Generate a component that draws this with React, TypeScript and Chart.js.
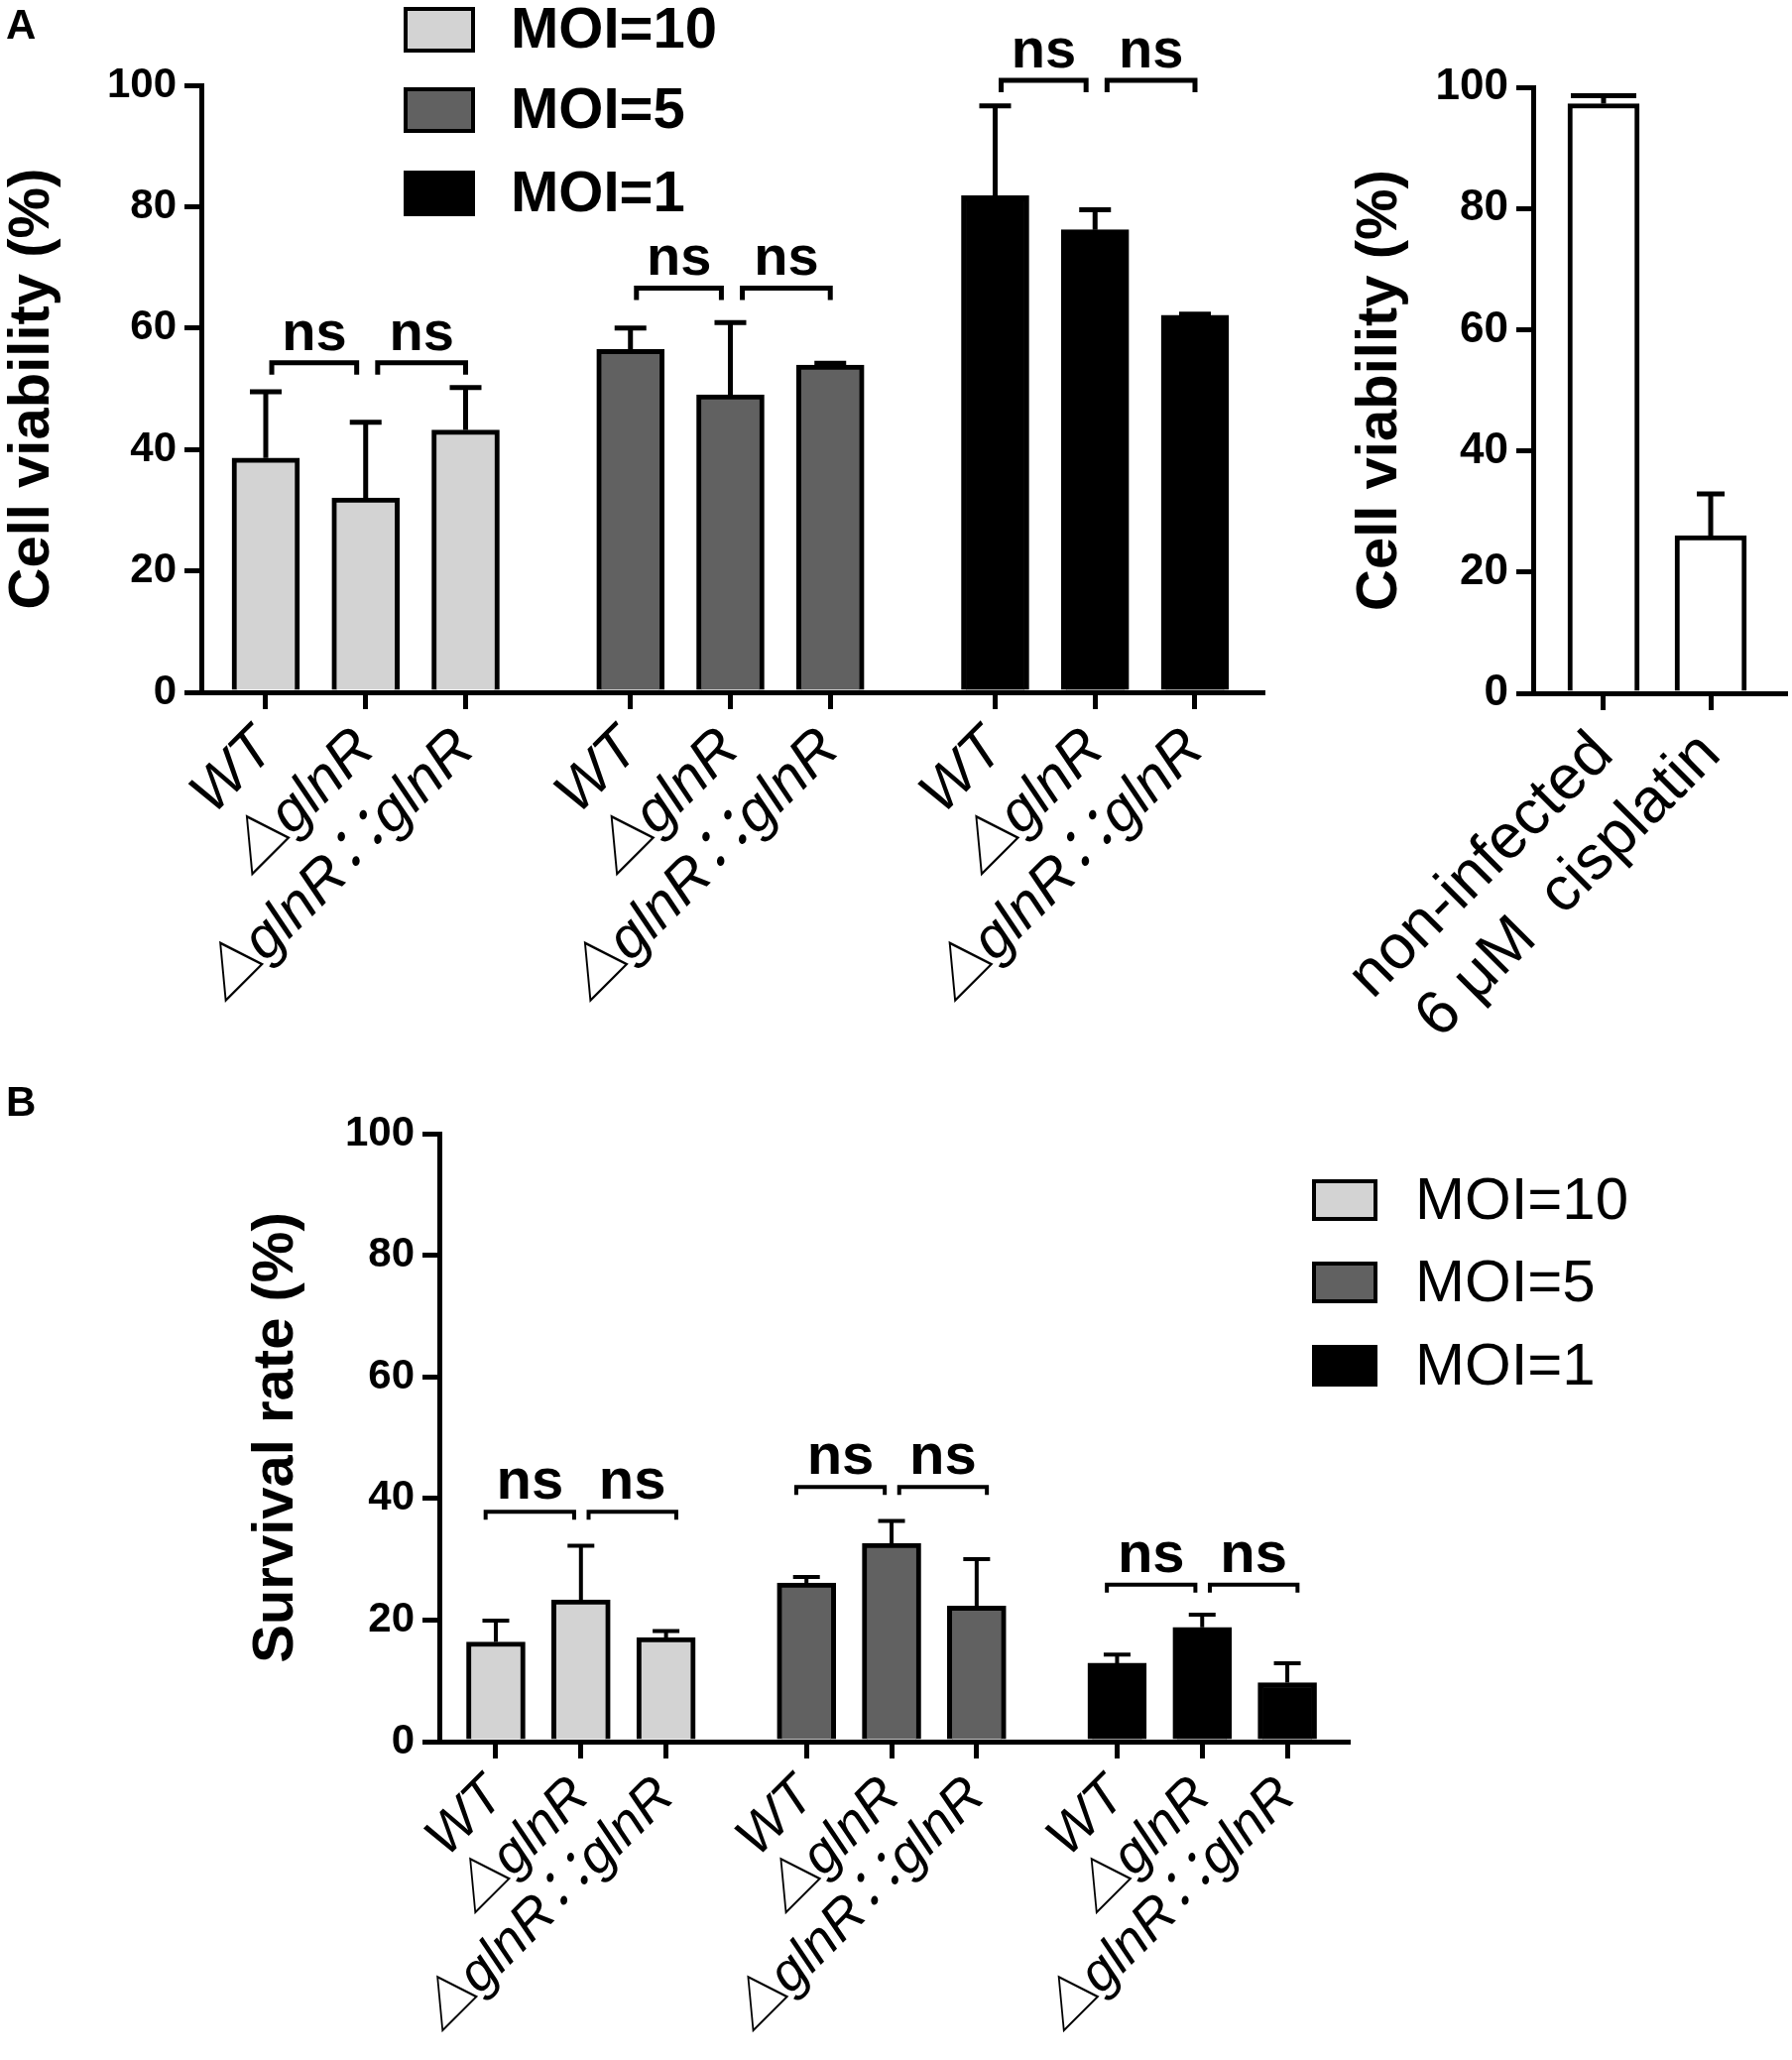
import React, { useRef, useEffect } from 'react';
import { Chart, registerables } from 'chart.js';

Chart.register(...registerables);

const FONT = "'Liberation Sans', 'Noto Sans CJK SC', Arial, sans-serif";
Chart.defaults.font.family = FONT;
Chart.defaults.color = '#000';

// categories
const strains = ['WT', '△glnR', '△glnR∷glnR'];
const xLabels = [...strains, ...strains, ...strains];
const xPos = [0, 1, 2, 3.65, 4.65, 5.65, 7.3, 8.3, 9.3];
const moiLabels = ['MOI=10', 'MOI=5', 'MOI=1'];
const moiColors = ['#d3d3d3', '#616161', '#000000'];
const yTicks = [0, 20, 40, 60, 80, 100];

// A: cell viability (%)
const viabMoi10 = [38.6, 32.0, 43.2];
const viabMoi5 = [56.5, 49.0, 53.9];
const viabMoi1 = [81.8, 76.2, 62.1];
const viabErrMoi10 = [49.5, 44.5, 50.2];
const viabErrMoi5 = [60.0, 60.9, 54.2];
const viabErrMoi1 = [96.6, 79.5, 62.3];
const viabBracketY = [54.3, 66.6, 100.8];

// A: controls
const ctrlLabels = ['non-infected', '6 μM  cisplatin'];
const ctrlPos = [0, 1];
const ctrlViab = [97.3, 26.0];
const ctrlErr = [98.6, 32.9];

// B: survival rate (%)
const survMoi10 = [16.4, 23.3, 17.1];
const survMoi5 = [26.1, 32.6, 22.3];
const survMoi1 = [12.9, 18.8, 9.7];
const survErrMoi10 = [19.9, 32.2, 18.2];
const survErrMoi5 = [27.1, 36.3, 30.0];
const survErrMoi1 = [14.3, 20.9, 12.9];
const survBracketY = [37.8, 41.9, 25.8];

function errorBars(lineWidth: number, caps: number[] | number) {
    return {
        id: 'errorBars',
        afterDatasetsDraw(chart: any) {
            const { ctx } = chart;
            const y = chart.scales.y;
            ctx.save();
            ctx.strokeStyle = '#000';
            ctx.lineWidth = lineWidth;
            chart.data.datasets.forEach((ds: any, di: number) => {
                chart.getDatasetMeta(di).data.forEach((bar: any, i: number) => {
                    const top = y.getPixelForValue(ds.errors[i]);
                    const cap = Array.isArray(caps) ? caps[i] : caps;
                    ctx.beginPath();
                    ctx.moveTo(bar.x, bar.y);
                    ctx.lineTo(bar.x, top);
                    ctx.moveTo(bar.x - cap / 2, top);
                    ctx.lineTo(bar.x + cap / 2, top);
                    ctx.stroke();
                });
            });
            ctx.restore();
        },
    };
}

// offsets: [start, end] of the left and the right bracket, in x units
function brackets(levels: number[], left: number[], right: number[], drop: number, lineWidth: number, fontSize: number) {
    return {
        id: 'brackets',
        afterDraw(chart: any) {
            const { ctx } = chart;
            const { x, y } = chart.scales;
            ctx.save();
            ctx.strokeStyle = '#000';
            ctx.fillStyle = '#000';
            ctx.lineWidth = lineWidth;
            ctx.font = `bold ${fontSize}px ${FONT}`;
            ctx.textAlign = 'center';
            ctx.textBaseline = 'alphabetic';
            levels.forEach((lvl, g) => {
                const yy = y.getPixelForValue(lvl);
                [left, right].forEach((off, k) => {
                    const x1 = x.getPixelForValue(xPos[g * 3 + k] + off[0]);
                    const x2 = x.getPixelForValue(xPos[g * 3 + k + 1] + off[1]);
                    ctx.beginPath();
                    ctx.moveTo(x1, yy + drop);
                    ctx.lineTo(x1, yy);
                    ctx.lineTo(x2, yy);
                    ctx.lineTo(x2, yy + drop);
                    ctx.stroke();
                    ctx.fillText('ns', (x1 + x2) / 2, yy - 13);
                });
            });
            ctx.restore();
        },
    };
}

function boxLegend(left: number, tops: number[], w: number, h: number, textX: number, font: string) {
    return {
        id: 'boxLegend',
        afterDraw(chart: any) {
            const { ctx } = chart;
            ctx.save();
            chart.data.datasets.forEach((ds: any, i: number) => {
                const top = tops[i];
                ctx.fillStyle = ds.backgroundColor;
                ctx.fillRect(left, top, w, h);
                ctx.strokeStyle = '#000';
                ctx.lineWidth = 4;
                ctx.strokeRect(left + 2, top + 2, w - 4, h - 4);
                ctx.fillStyle = '#000';
                ctx.font = font;
                ctx.textAlign = 'left';
                ctx.textBaseline = 'middle';
                ctx.fillText(ds.label, textX, top + h / 2 + 2);
            });
            ctx.restore();
        },
    };
}

function pick(arr: number[], from: number) {
    return arr.map((v, i) => ({ x: xPos[from + i], y: v }));
}

function yScale(title: string, width: number, tickSize: number, titlePad: number) {
    return {
        min: 0,
        max: 100,
        afterBuildTicks: (s: any) => { s.ticks = yTicks.map(v => ({ value: v })); },
        afterFit: (s: any) => { s.width = width; },
        ticks: { font: { size: tickSize, weight: 'bold' }, color: '#000', padding: 8 },
        grid: { drawOnChartArea: false, drawTicks: true, tickLength: 17, lineWidth: 5, color: '#000' },
        border: { display: true, width: 5, color: '#000' },
        title: {
            display: true,
            text: title,
            color: '#000',
            font: { size: 58, weight: 'bold', lineHeight: 1 },
            padding: { top: titlePad, bottom: 0 },
        },
    };
}

function xScale(positions: number[], labels: string[], min: number, max: number, height: number, font: any, pad: number) {
    return {
        type: 'linear',
        min,
        max,
        offset: false,
        afterBuildTicks: (s: any) => { s.ticks = positions.map(v => ({ value: v })); },
        afterFit: (s: any) => {
            s.height = height;
            s.paddingLeft = 0;
            s.paddingRight = 0;
        },
        ticks: {
            autoSkip: false,
            maxRotation: 45,
            minRotation: 45,
            padding: pad,
            font,
            color: '#000',
            callback: (_v: any, i: number) => labels[i],
        },
        grid: { offset: false, drawOnChartArea: false, drawTicks: true, tickLength: 17, lineWidth: 5, color: '#000' },
        border: { display: true, width: 5, color: '#000' },
    };
}

function moiDatasets(vals: number[][], errs: number[][], thickness: number, borderWidth: number) {
    return vals.map((v, g) => ({
        label: moiLabels[g],
        data: pick(v, g * 3),
        errors: errs[g],
        backgroundColor: moiColors[g],
        borderColor: '#000',
        borderWidth,
        borderSkipped: 'start',
        barThickness: thickness,
        grouped: false,
    }));
}

const baseOptions = {
    responsive: false,
    animation: false,
    devicePixelRatio: 1,
    plugins: { legend: { display: false }, tooltip: { enabled: false } },
};

function viabilityConfig(): any {
    return {
        type: 'bar',
        data: {
            datasets: moiDatasets(
                [viabMoi10, viabMoi5, viabMoi1],
                [viabErrMoi10, viabErrMoi5, viabErrMoi1],
                68, 5,
            ),
        },
        options: {
            ...baseOptions,
            layout: { padding: { top: 86, right: 27, left: 0, bottom: 0 } },
            scales: {
                x: xScale(xPos, xLabels, -0.645, 9.975, 392, { size: 59, style: 'italic' }, 6),
                y: yScale('Cell viability (%)', 203, 42, 4),
            },
        },
        plugins: [
            errorBars(5, 32),
            brackets(viabBracketY, [0.06, -0.09], [0.12, 0], 12, 5, 56),
            boxLegend(407, [7, 88, 172], 72, 46, 515, `bold 58px ${FONT}`),
        ],
    };
}

function controlConfig(): any {
    return {
        type: 'bar',
        data: {
            datasets: [{
                label: 'control',
                data: ctrlViab.map((v, i) => ({ x: ctrlPos[i], y: v })),
                errors: ctrlErr,
                backgroundColor: '#ffffff',
                borderColor: '#000',
                borderWidth: 5,
                borderSkipped: 'start',
                barThickness: 72,
                grouped: false,
            }],
        },
        options: {
            ...baseOptions,
            layout: { padding: { top: 88, right: 7, left: 0, bottom: 0 } },
            scales: {
                x: xScale(ctrlPos, ctrlLabels, -0.657, 1.694, 391, { size: 63 }, 8),
                y: yScale('Cell viability (%)', 189, 44, 6),
            },
        },
        plugins: [errorBars(5, [66, 28])],
    };
}

function survivalConfig(): any {
    return {
        type: 'bar',
        data: {
            datasets: moiDatasets(
                [survMoi10, survMoi5, survMoi1],
                [survErrMoi10, survErrMoi5, survErrMoi1],
                59, 5,
            ),
        },
        options: {
            ...baseOptions,
            layout: { padding: { top: 53, right: 448, left: 0, bottom: 0 } },
            scales: {
                x: xScale(xPos, xLabels, -0.664, 10.01, 321, { size: 55, style: 'italic' }, 6),
                y: yScale('Survival rate (%)', 197, 42, 4),
            },
        },
        plugins: [
            errorBars(4, 27),
            brackets(survBracketY, [-0.12, -0.08], [0.09, 0.12], 8, 4, 58),
            boxLegend(1077, [99, 182, 266], 66, 42, 1181, `60px ${FONT}`),
        ],
    };
}

interface PanelProps {
    left: number;
    top: number;
    width: number;
    height: number;
    build: () => any;
}

const Panel: React.FC<PanelProps> = ({ left, top, width, height, build }) => {
    const canvasRef = useRef<HTMLCanvasElement>(null);
    const chartRef = useRef<Chart | null>(null);

    useEffect(() => {
        if (!canvasRef.current) return;
        if (chartRef.current) chartRef.current.destroy();
        chartRef.current = new Chart(canvasRef.current, build());
        return () => {
            if (chartRef.current) chartRef.current.destroy();
            chartRef.current = null;
        };
    }, []);

    return (
        <canvas
            ref={canvasRef}
            width={width}
            height={height}
            style={{ position: 'absolute', left, top, width, height }}
        />
    );
};

const letterStyle: React.CSSProperties = {
    position: 'absolute',
    fontFamily: FONT,
    fontWeight: 'bold',
    fontSize: 42,
    lineHeight: 1,
    color: '#000',
};

export default function App() {
    return (
        <div style={{ position: 'absolute', left: 0, top: 0, width: 1807, height: 2077, background: '#fff', overflow: 'hidden' }}>
            <Panel left={0} top={0} width={1300} height={1090} build={viabilityConfig} />
            <Panel left={1357} top={0} width={450} height={1090} build={controlConfig} />
            <Panel left={246} top={1090} width={1561} height={987} build={survivalConfig} />
            <div style={{ ...letterStyle, left: 6, top: 4 }}>A</div>
            <div style={{ ...letterStyle, left: 6, top: 1090 }}>B</div>
        </div>
    );
}
